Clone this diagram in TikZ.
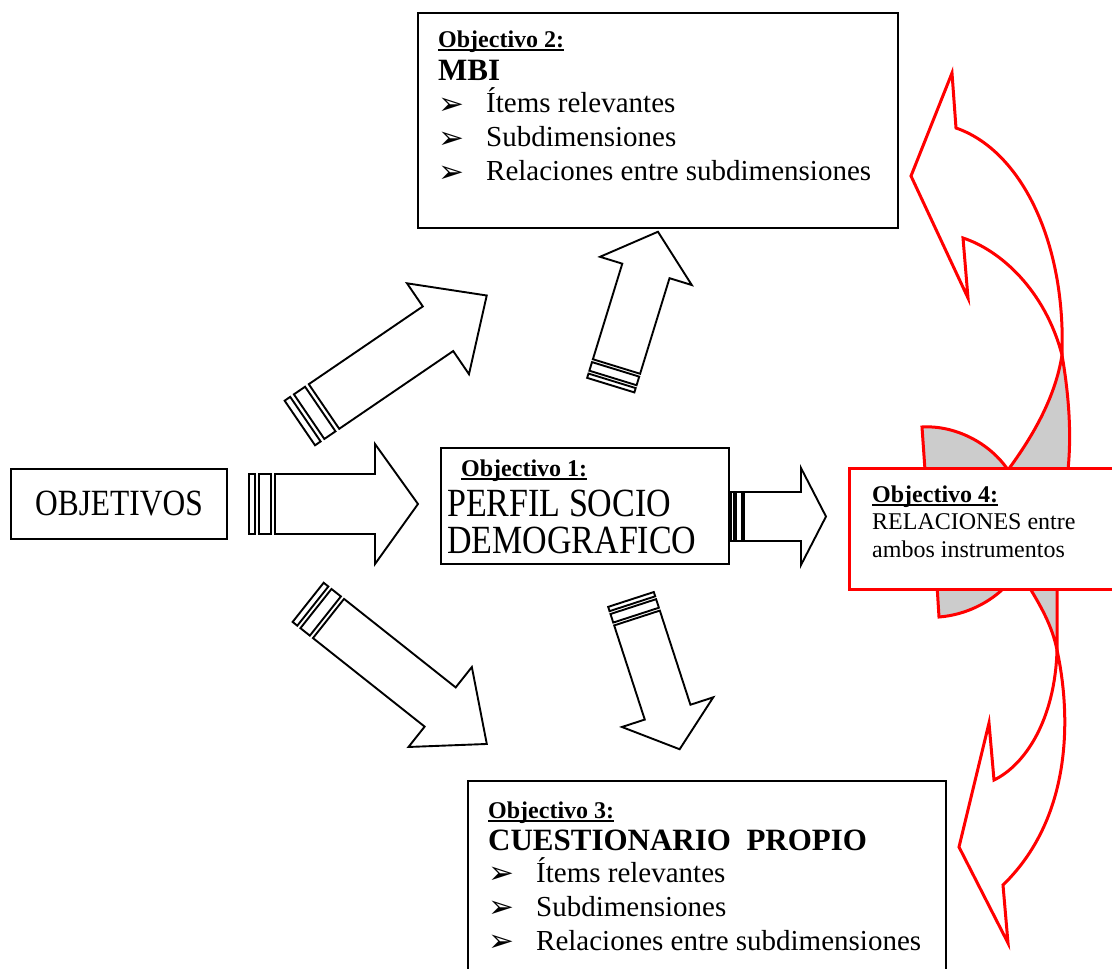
\documentclass[tikz,border=0pt]{standalone}
\usepackage{fontspec}
\setmainfont{Liberation Serif}
\newfontfamily\narrowfont[FakeStretch=0.85]{Liberation Serif}
\newfontfamily\bulletfont{DejaVu Sans}
\usetikzlibrary{positioning}

% underlined heading of a box
\newcommand{\objhead}[1]{{\bfseries\fontsize{24}{24}\selectfont\setbox0\hbox{#1}\rlap{\rule[-3.5pt]{\wd0}{1.8pt}}\box0}}
\newcommand{\itembullet}{\makebox[48pt][l]{\raisebox{-1pt}{\bulletfont\fontsize{31}{31}\selectfont ➢}}}

% block arrow with two stripes at its tail
% #1 tail point, #2 angle, #3 body, #4 head, #5 half width, #6 head half width, #7 stripe unit
\newcommand{\stripearrow}[7]{%
  \begin{scope}[shift={#1}, rotate=#2]
    \draw[blockarrow] (0,-#5) -- ({#3},-#5) -- ({#3},-#6) -- ({#3+#4},0) -- ({#3},#6) -- ({#3},#5) -- (0,#5) -- cycle;
    \draw[blockarrow] ({-#7},-#5) rectangle ({-4*#7},#5);
    \draw[blockarrow] ({-5*#7},-#5) rectangle ({-6.5*#7},#5);
  \end{scope}}

\begin{document}
\begin{tikzpicture}[
    x=1pt, y=-1pt,
    box/.style={
		rectangle,
		draw=black,
		line width=1.9pt,
		fill=white,
		inner sep=0pt,
		anchor=north west
	},
    redbox/.style={box, draw=red, line width=3pt},
    boxtext/.style={anchor=base west, inner sep=0pt,
		execute at begin node={\spaceskip=0pt\xspaceskip=0pt}},
    blockarrow/.style={draw=black, line width=1.9pt, fill=white},
    curvearrow/.style={draw=red, line width=3pt}
  ]
  \useasboundingbox (0,0) rectangle (1112,969);

  % red curved arrows behind objective 4
  \draw[curvearrow, fill=gray!40] (922,427) .. controls (955,425) and (990,443) .. (1008,470) -- (925,470) -- cycle;
  \draw[curvearrow, fill=gray!40] (1062,355) .. controls (1055,400) and (1030,440) .. (1008,470) -- (1068,470) .. controls (1072,430) and (1068,390) .. (1062,355) -- cycle;
  \draw[curvearrow, fill=white] (956,128) -- (952,73) -- (911,176) -- (968,298) -- (963,238) .. controls (1000,250) and (1045,290) .. (1062,355) .. controls (1066,240) and (1020,150) .. (956,128) -- cycle;

  \draw[curvearrow, fill=gray!40] (937,585) -- (939,617) .. controls (965,615) and (990,603) .. (1007,585) -- cycle;
  \draw[curvearrow, fill=gray!40] (1028,585) .. controls (1040,605) and (1052,625) .. (1057,650) -- (1057,585) -- cycle;
  \draw[curvearrow, fill=white] (1057,650) .. controls (1070,710) and (1075,815) .. (1003,885) -- (1008,943) -- (959,847) -- (989,723) -- (994,780) .. controls (1025,765) and (1055,720) .. (1057,650) -- cycle;

  % the boxes
  \node[box, minimum width=216pt, minimum height=70pt] (objetivos) at (10,468)
    {\narrowfont\fontsize{37}{40}\selectfont OBJETIVOS};

  \node[box, minimum width=288pt, minimum height=116pt] (perfil) at (440,447) {};
  \node[boxtext, text width=280pt] (perfil text) at ([xshift=7pt, yshift=-29pt]perfil.north west)
    {\hspace*{14pt}\objhead{Objectivo 1:}\par
     {\narrowfont\fontsize{40}{40}\selectfont PERFIL SOCIO\par}
     {\narrowfont\fontsize{40}{37}\selectfont DEMOGRAFICO\par}};

  \node[box, minimum width=480pt, minimum height=215pt] (mbi) at (417,12) {};
  \node[boxtext, text width=460pt] (mbi text) at ([xshift=21pt, yshift=-35pt]mbi.north west)
    {\objhead{Objectivo 2:}\par
     {\bfseries\fontsize{31}{33}\selectfont MBI\par}
     {\fontsize{29}{33}\selectfont\itembullet Ítems relevantes\par}
     {\fontsize{29}{34}\selectfont\itembullet Subdimensiones\par
      \itembullet Relaciones entre subdimensiones\par}};

  \node[box, minimum width=478pt, minimum height=210pt] (propio) at (467,780) {};
  \node[boxtext, text width=460pt] (propio text) at ([xshift=21pt, yshift=-38pt]propio.north west)
    {\objhead{Objectivo 3:}\par
     {\bfseries\fontsize{31}{32}\selectfont CUESTIONARIO\ \ PROPIO\par}
     {\fontsize{29}{32}\selectfont\itembullet Ítems relevantes\par}
     {\fontsize{29}{34}\selectfont\itembullet Subdimensiones\par
      \itembullet Relaciones entre subdimensiones\par}};

  \node[redbox, minimum width=300pt, minimum height=121pt] (relaciones) at (848,467) {};
  \node[boxtext, text width=260pt] (relaciones text) at ([xshift=24pt, yshift=-35pt]relaciones.north west)
    {\objhead{Objectivo 4:}\par
     {\fontsize{24}{27.5}\selectfont RELACIONES entre\par
      ambos instrumentos\par}};

  % block arrows
  \stripearrow{(275,504)}{0}{100}{43}{30}{60}{4}
  \stripearrow{(744,516.5)}{0}{57}{25}{24.5}{48.5}{2}
  \stripearrow{(324,406.5)}{34.3}{138}{59}{27}{55}{4.5}
  \stripearrow{(616.5,366.5)}{72.9}{100}{41}{24.7}{48}{3}
  \stripearrow{(328.5,618.5)}{-38.4}{142.5}{59.5}{25}{51}{4}
  \stripearrow{(637,618)}{-72}{99}{39}{24}{48}{3}

\end{tikzpicture}
\end{document}
